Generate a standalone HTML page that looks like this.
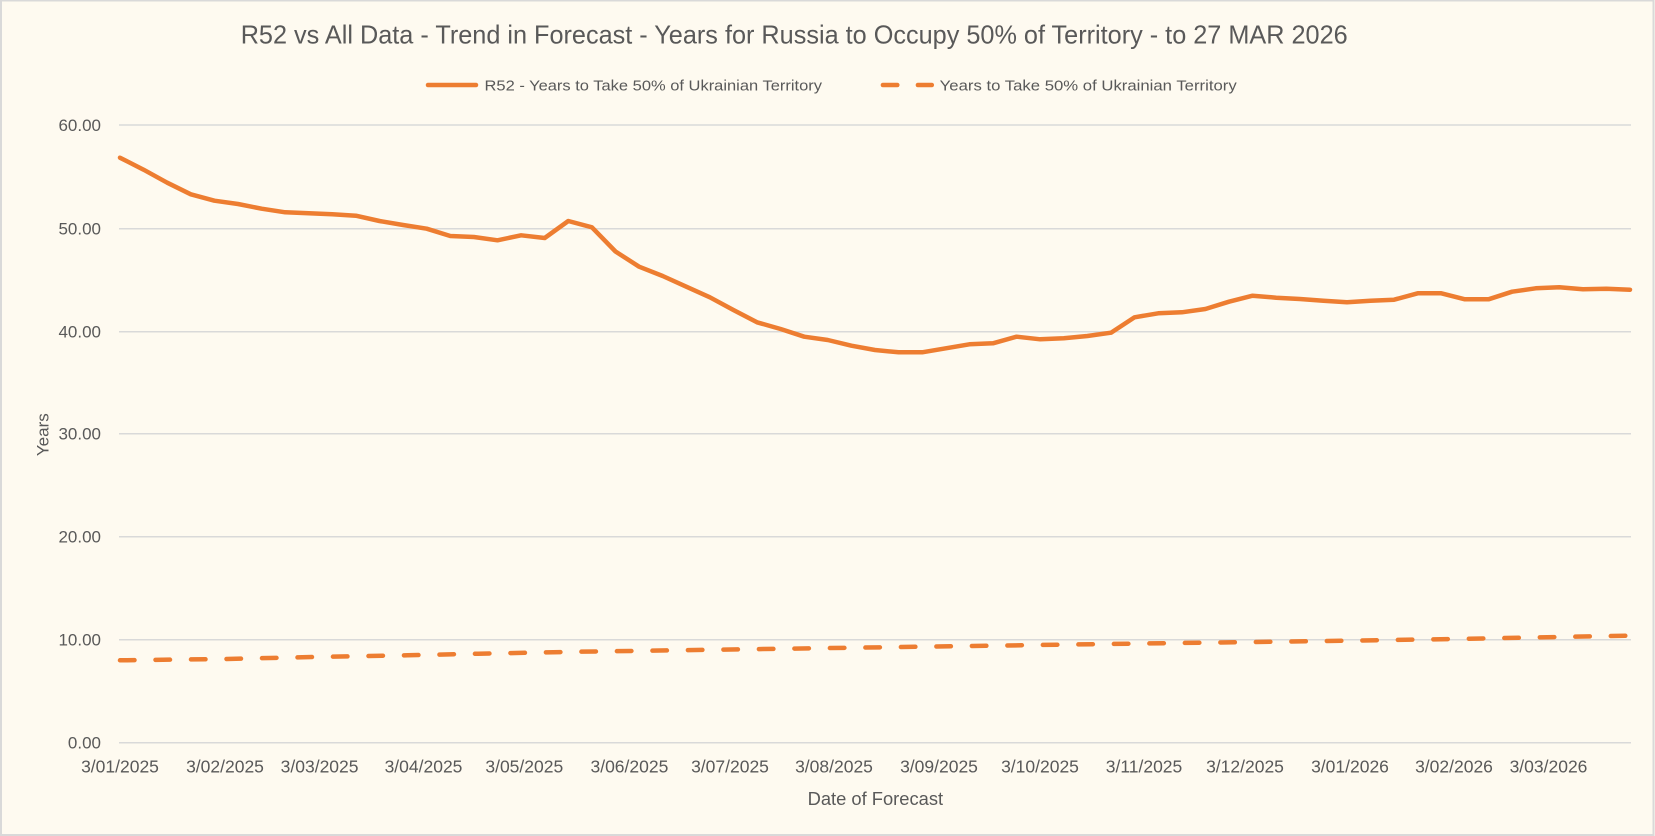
<!DOCTYPE html>
<html><head><meta charset="utf-8"><style>
html,body{margin:0;padding:0;background:#fefaf0;}
svg{display:block;}
text{font-family:"Liberation Sans",sans-serif;fill:#595959;}
</style></head><body>
<svg width="1655" height="836" viewBox="0 0 1655 836" xmlns="http://www.w3.org/2000/svg">
<rect x="0" y="0" width="1655" height="836" fill="#fefaf0"/>
<rect x="1" y="0.5" width="1652.5" height="834.5" fill="none" stroke="#d9d9d9" stroke-width="2"/>
<text x="240.7" y="43.5" font-size="26" textLength="1107" lengthAdjust="spacingAndGlyphs">R52 vs All Data  - Trend in Forecast - Years for Russia to Occupy 50% of Territory - to 27 MAR 2026</text>
<line x1="428" y1="85" x2="476" y2="85" stroke="#ed7d31" stroke-width="4.5" stroke-linecap="round"/>
<text x="484.5" y="90.5" font-size="15" textLength="337.5" lengthAdjust="spacingAndGlyphs">R52 - Years to Take  50% of Ukrainian Territory</text>
<line x1="882.9" y1="85" x2="897.3" y2="85" stroke="#ed7d31" stroke-width="4.5" stroke-linecap="round"/>
<line x1="917.9" y1="85" x2="931.8" y2="85" stroke="#ed7d31" stroke-width="4.5" stroke-linecap="round"/>
<text x="939.7" y="90.5" font-size="15" textLength="297" lengthAdjust="spacingAndGlyphs">Years to Take  50% of Ukrainian Territory</text>
<g stroke="#d9d9d9" stroke-width="1.5">
<line x1="119" y1="125" x2="1631" y2="125"/>
<line x1="119" y1="228.7" x2="1631" y2="228.7"/>
<line x1="119" y1="331.7" x2="1631" y2="331.7"/>
<line x1="119" y1="433.7" x2="1631" y2="433.7"/>
<line x1="119" y1="536.7" x2="1631" y2="536.7"/>
<line x1="119" y1="639.7" x2="1631" y2="639.7"/>
<line x1="119" y1="742.7" x2="1631" y2="742.7"/>
</g>
<g font-size="17" text-anchor="end">
<text x="101" y="131">60.00</text>
<text x="101" y="234.7">50.00</text>
<text x="101" y="337.7">40.00</text>
<text x="101" y="439.7">30.00</text>
<text x="101" y="542.7">20.00</text>
<text x="101" y="645.7">10.00</text>
<text x="101" y="748.7">0.00</text>
</g>
<text transform="translate(48.3,434.7) rotate(-90)" font-size="17" text-anchor="middle">Years</text>
<g font-size="17.5" text-anchor="middle">
<text x="120" y="772.7">3/01/2025</text>
<text x="225" y="772.7">3/02/2025</text>
<text x="319.6" y="772.7">3/03/2025</text>
<text x="423.5" y="772.7">3/04/2025</text>
<text x="524.3" y="772.7">3/05/2025</text>
<text x="629.4" y="772.7">3/06/2025</text>
<text x="730" y="772.7">3/07/2025</text>
<text x="834" y="772.7">3/08/2025</text>
<text x="939" y="772.7">3/09/2025</text>
<text x="1040" y="772.7">3/10/2025</text>
<text x="1144" y="772.7">3/11/2025</text>
<text x="1245" y="772.7">3/12/2025</text>
<text x="1350" y="772.7">3/01/2026</text>
<text x="1454" y="772.7">3/02/2026</text>
<text x="1548.5" y="772.7">3/03/2026</text>
</g>
<text x="807.6" y="805" font-size="18" textLength="135.5" lengthAdjust="spacingAndGlyphs">Date of Forecast</text>
<polyline fill="none" stroke="#ed7d31" stroke-width="4.5" stroke-linecap="round" stroke-dasharray="14.5 21" points="120,660.3 226,659 314,657 407.6,655.3 478,653.7 580,651.7 1107,644 1348,640.7 1454,639 1595.6,636.3 1630,635.7"/>
<polyline fill="none" stroke="#ed7d31" stroke-width="4.5" stroke-linecap="round" stroke-linejoin="round" points="120,157.7 143.6,169.7 167.2,182.7 190.8,194.3 214.4,200.7 238,204 261.6,208.7 285.2,212.3 308.8,213.3 332.3,214.3 355.9,215.7 379.5,221 403.1,225 426.7,228.7 450.3,236 473.9,237 497.5,240.3 521.1,235.3 544.7,238 568.3,221 591.9,227.3 615.5,251.5 639.1,266.7 662.7,276 686.3,286.7 709.9,297.3 733.4,310 757,322.3 780.6,329 804.2,336.7 827.8,340 851.4,345.7 875,350 898.6,352.3 922.2,352.3 945.8,348.3 969.4,344.3 993,343.3 1016.6,336.7 1040.2,339.3 1063.8,338.3 1087.4,336 1111,332.7 1134.6,317.3 1158.2,313.3 1181.8,312.3 1205.4,309 1229,301.7 1252.6,295.7 1276.2,297.7 1299.8,299 1323.4,300.7 1347,302.3 1370.5,300.7 1394.1,299.7 1417.7,293.3 1441.3,293.3 1464.9,299.3 1488.5,299.3 1512.1,291.7 1535.7,288.3 1559.3,287.3 1582.9,289.3 1606.5,288.7 1630,289.7"/>
</svg>
</body></html>
